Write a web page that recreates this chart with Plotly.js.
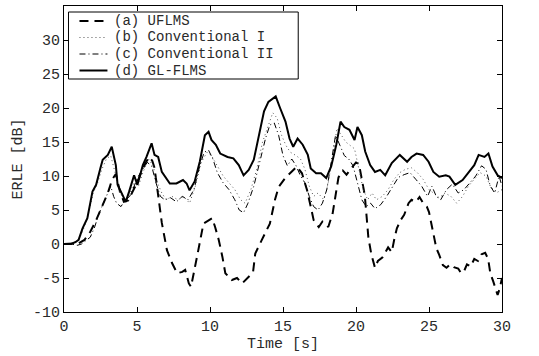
<!DOCTYPE html>
<html>
<head>
<meta charset="utf-8">
<script src="https://cdn.plot.ly/plotly-3.0.1.min.js"></script>
<style>html,body{margin:0;padding:0;background:#fff;}#chart{width:539px;height:356px;}</style>
</head>
<body>
<div id="chart"></div>
<script>
// ---- data ----
var seriesNames = ["(a) UFLMS", "(b) Conventional I", "(c) Conventional II", "(d) GL-FLMS"];

var tA = [0,0.6,1.0,1.4,1.8,2.2,2.6,3.0,3.3,3.55,3.8,4.1,4.4,4.7,5.0,5.3,5.6,5.85,6.05,6.2,6.45,6.7,7.05,7.4,7.75,8.1,8.3,8.55,8.7,8.9,9.2,9.55,9.9,10.15,10.35,10.6,10.85,11.05,11.5,11.85,12.2,12.45,12.75,12.95,13.1,13.55,14.1,14.45,14.7,15.15,15.5,15.95,16.3,16.65,16.9,17.1,17.45,17.7,17.9,18.1,18.4,18.6,18.8,19.1,19.35,19.7,20.0,20.2,20.4,20.6,20.7,20.85,21.05,21.3,21.5,21.8,22.2,22.45,22.65,22.8,23.05,23.3,23.6,23.8,24.1,24.35,24.6,24.85,25.0,25.3,25.5,25.7,25.95,26.2,26.45,26.7,27.0,27.2,27.4,27.6,27.85,28.1,28.35,28.6,28.85,29.05,29.2,29.4,29.55,29.7,29.85,30];
var yA = [0,0,0.1,0.6,1.8,3.5,5.5,7.5,9.5,10.3,8,6.2,6.4,7.6,9,10.6,12,12.8,12.2,11.2,7.2,3.1,-0.9,-2.8,-4.3,-4.1,-3.8,-5.8,-6.3,-4.3,-0.9,3.0,3.5,3.8,2.5,0.6,-1.9,-4.3,-5.3,-5.0,-5.8,-5.3,-4.6,-4.1,-1.4,0.6,3.0,6.5,8.4,9.7,10.4,11.4,10.4,7.9,5.5,3.5,2.5,3.3,3.0,2.5,4.5,7.5,9.8,10.8,10.2,11.2,12.0,11.8,9.7,7.2,4.7,0.9,-1.5,-3.5,-2.5,-2,-0.5,-1.2,1.0,2.3,3.5,4.3,6.0,6.5,6.2,6.9,6.0,5.5,4.7,1.8,-0.6,-1.6,-3.1,-3.5,-3.0,-3.4,-3.6,-4.3,-4.0,-3.0,-3.3,-2.2,-2.5,-1.5,-1.3,-2.2,-4.3,-5.5,-6.5,-7.5,-6.5,-5];

var tB = [0,0.5,0.8,1.0,1.3,1.6,2.0,2.3,2.6,2.9,3.2,3.5,3.8,4.2,4.5,4.8,5.1,5.4,5.8,6.1,6.4,6.7,7.0,7.4,7.8,8.2,8.6,9.0,9.4,9.8,10.1,10.5,10.9,11.3,11.7,12.1,12.4,12.8,13.2,13.6,14.0,14.3,14.6,14.9,15.2,15.5,15.9,16.2,16.5,16.8,17.1,17.4,17.8,18.1,18.4,18.7,19.0,19.3,19.6,19.9,20.2,20.5,20.8,21.1,21.4,21.8,22.2,22.6,23.0,23.4,23.8,24.2,24.6,25.0,25.3,25.7,26.1,26.5,26.9,27.3,27.7,28.1,28.5,28.9,29.2,29.6,30];
var yB = [0,0,0.2,0.6,2,3.8,7.5,9,11,12.5,13,10.5,7.5,6.5,7.5,9,8.5,10.5,12.5,11.5,9,7.5,6.5,7,6.5,7,6,8.5,12,13.5,13,11.5,10,9,8,6.5,6,8,11,15,17.5,19.3,18.5,16,14.5,13.5,13,12.5,11,8.5,7,7.5,6.5,9,13,17,16,15,14.5,14,11,8,6.5,7.5,6.5,7,8,9.5,10.5,11,11.2,10.5,9.5,8,7.5,6.8,7.5,7,6,7,8.5,9.5,10.5,10,8.5,7.5,8];

var tC = [0,0.5,0.9,1.2,1.5,1.8,2.1,2.4,2.7,3.0,3.2,3.4,3.6,3.9,4.2,4.5,4.8,5.1,5.4,5.7,6.0,6.3,6.6,6.9,7.3,7.7,8.1,8.5,8.9,9.3,9.6,9.9,10.2,10.5,10.9,11.3,11.7,12.0,12.3,12.6,13.0,13.4,13.8,14.1,14.4,14.7,15.0,15.3,15.6,15.9,16.2,16.5,16.8,17.1,17.4,17.7,18.0,18.3,18.6,18.9,19.2,19.5,19.8,20.1,20.4,20.7,21.0,21.3,21.7,22.1,22.5,22.9,23.3,23.7,24.1,24.5,24.9,25.2,25.5,25.8,26.2,26.6,27.0,27.4,27.8,28.2,28.6,28.9,29.2,29.5,29.8,30];
var yC = [0,0,-0.2,0,0.5,1,2.5,4.5,6,7.5,8.5,7,6,5.5,6.5,7,8.5,10,11,12,11.5,9,7,6.5,6.8,6.2,7,6.5,8,11.5,13.5,13.8,12.5,10.5,9,8,6.5,5,4.6,6,8.5,12,15.5,17.5,17.8,16,13,11.5,12.5,11.5,10,9,7,5.5,5,6,8,12,16,14.5,13,12.5,11.5,9,6.5,5.5,6,5.2,5.8,7,8.5,9.8,10.2,10.5,9.5,8.5,7,8.5,7,6.5,8,8.8,7.5,8,9,10,11.5,11,8.5,7.5,10,8.5];

var tD = [0,0.5,0.8,1.0,1.27,1.6,1.95,2.2,2.5,2.65,3.0,3.27,3.55,3.67,3.9,4.23,4.46,4.8,5.03,5.4,5.65,6.0,6.2,6.45,6.7,7.0,7.25,7.7,8.15,8.4,8.6,8.95,9.3,9.65,9.9,10.1,10.4,10.7,11.2,11.6,11.97,12.3,12.65,13.0,13.35,13.7,14.0,14.5,14.8,15.17,15.45,15.7,16.0,16.35,16.7,16.9,17.27,17.6,17.96,18.3,18.65,18.94,19.2,19.55,19.9,20.1,20.4,20.63,20.97,21.3,21.66,22.0,22.45,23.0,23.5,23.8,24.15,24.6,24.97,25.3,25.7,26.15,26.4,26.8,27.3,27.75,28.1,28.4,28.8,29.07,29.35,29.7,30.0];
var yD = [0,0,0.3,0.6,2.3,3.8,7.7,8.7,11.2,12.4,13.1,14.3,11.6,8.7,7.7,6.2,7.7,10.1,8.7,11.6,12.8,14.8,13.1,12.8,10.6,9.7,8.9,8.9,9.4,8.9,7.9,9.2,12.1,16.0,16.5,15.3,14.6,13.3,12.8,12.6,11.6,10.1,10.9,12.4,16.0,19.5,20.9,21.7,20.0,18.0,15.5,14.3,15.5,14.6,13.1,11.1,10.4,10.4,9.7,11.4,14.6,18.0,17.2,16.8,15.3,17.2,16.0,13.6,11.6,10.6,10.9,10.1,11.9,13.1,12.1,12.8,13.3,13.1,12.1,10.6,9.9,10.1,9.9,8.7,9.4,10.6,11.6,13.1,12.8,13.3,11.4,10.1,9.7];

var xTicks = [0,5,10,15,20,25,30];
var yTicks = [-10,-5,0,5,10,15,20,25,30,35];

// ---- layout geometry ----
var W = 539, H = 356, L = 63.5, R = 37, T = 6, B = 44;
function px2x(px){ return (px - L) / (W - L - R); }
function px2y(py){ return (H - B - py) / (H - T - B); }

var FONT = "Nimbus Mono PS, Courier New, Courier, FreeMono, Liberation Mono, monospace";
var TXT = "#2a2a2a";
var styles = [
  {color:"#000", width:2, dash:"9px,6px"},
  {color:"#555", width:1, dash:"1px,3px"},
  {color:"#000", width:1, dash:"6px,3px,1px,3px"},
  {color:"#000", width:2, dash:"solid"}
];
var xs = [tA,tB,tC,tD], ys = [yA,yB,yC,yD];
var traces = [];
for (var i=0;i<4;i++){
  traces.push({x:xs[i], y:ys[i], name:seriesNames[i], mode:"lines", type:"scatter",
    line:{color:styles[i].color, width:styles[i].width, dash:styles[i].dash, shape:"linear"},
    showlegend:false, hoverinfo:"skip"});
}

// manual legend (box, samples, labels) so the row spacing can match the reference
var shapes = [{type:"rect", xref:"paper", yref:"paper", x0:px2x(68), x1:px2x(298), y0:px2y(79), y1:px2y(12),
  line:{color:"#000", width:1}, fillcolor:"#fff", layer:"above"}];
var annotations = [];
var rows = [21, 37.5, 54, 70.5];
for (var j=0;j<4;j++){
  shapes.push({type:"line", xref:"paper", yref:"paper", x0:px2x(79), x1:px2x(107), y0:px2y(rows[j]), y1:px2y(rows[j]),
    line:{color:styles[j].color, width:styles[j].width, dash:styles[j].dash}, layer:"above"});
  annotations.push({xref:"paper", yref:"paper", x:px2x(113), y:px2y(rows[j]), xanchor:"left", yanchor:"middle",
    text:seriesNames[j], showarrow:false, borderpad:0, font:{family:FONT, size:14, color:TXT}});
}

var axisCommon = {showline:true, linecolor:"#000", linewidth:1, mirror:"ticks", ticks:"inside", ticklen:5,
  tickcolor:"#000", showgrid:false, zeroline:false, tickfont:{family:FONT, size:15, color:TXT}};

var layout = {
  width:W, height:H, margin:{l:L, r:R, t:T, b:B}, paper_bgcolor:"#fff", plot_bgcolor:"#fff",
  showlegend:false,
  xaxis:Object.assign({}, axisCommon, {range:[0,30], tickvals:xTicks, ticktext:xTicks.map(String),
    title:{text:"Time [s]", font:{family:FONT, size:15, color:TXT}, standoff:2}}),
  yaxis:Object.assign({}, axisCommon, {range:[-10,35], tickvals:yTicks, ticktext:yTicks.map(function(v){return v<0?"-"+Math.abs(v):String(v);}),
    title:{text:"ERLE [dB]", font:{family:FONT, size:15, color:TXT}, standoff:6}}),
  shapes:shapes, annotations:annotations
};
Plotly.newPlot("chart", traces, layout, {staticPlot:true, displayModeBar:false});
</script>
</body>
</html>
